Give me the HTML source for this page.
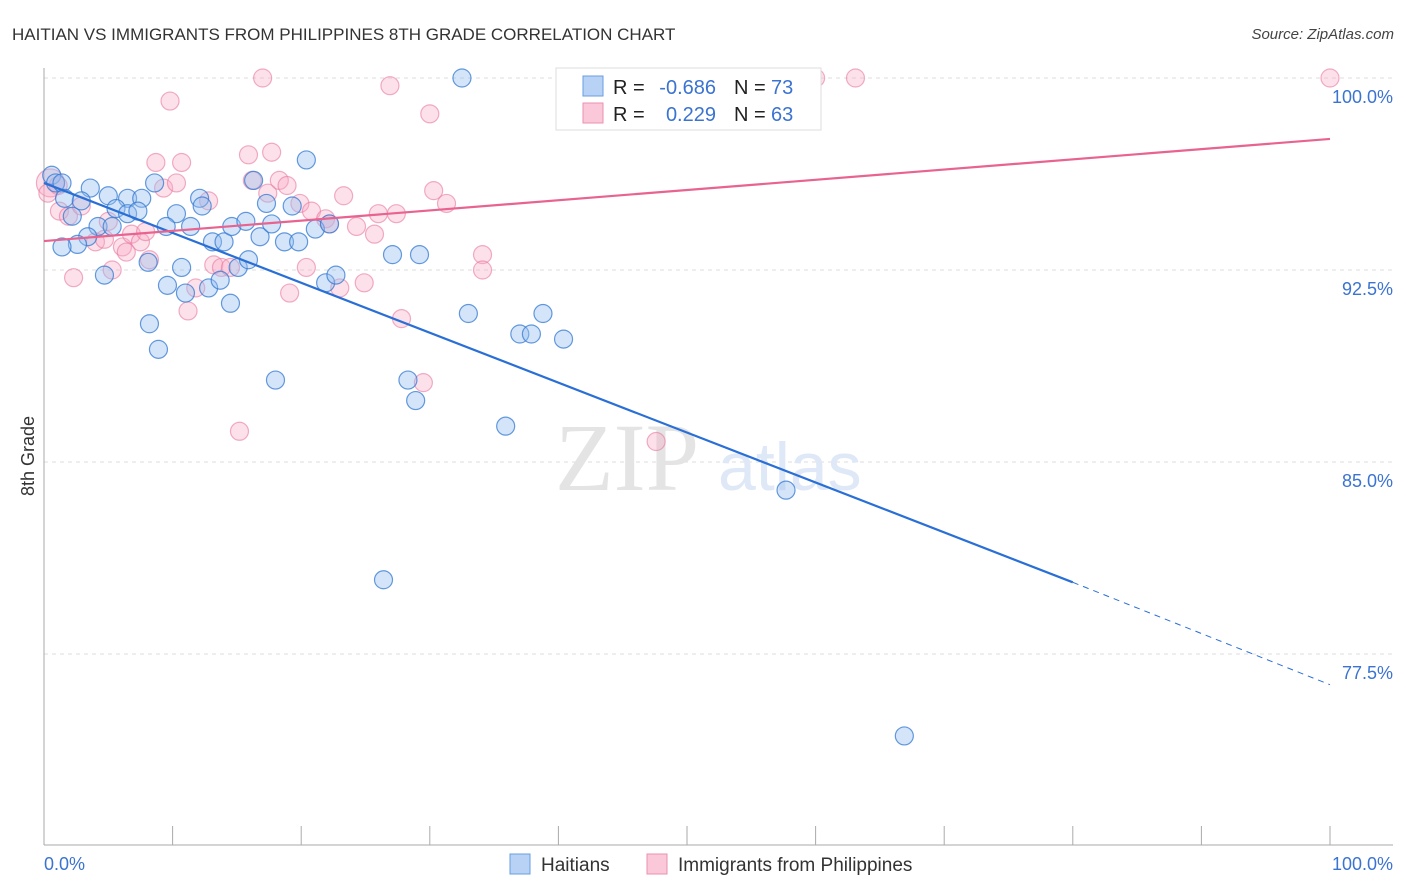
<!DOCTYPE html>
<html><head><meta charset="utf-8"><style>
body{margin:0;background:#fff;font-family:"Liberation Sans",sans-serif}
svg{display:block}
</style></head><body>
<svg id="c" width="1406" height="892"></svg>
<script>
const blueX=[0.6,0.9,1.4,3.6,1.6,2.9,5.0,6.5,7.6,2.2,5.6,6.5,7.3,8.6,10.3,12.1,12.3,9.5,11.4,4.2,5.3,3.4,2.6,1.4,4.7,8.1,10.7,9.6,11.0,12.8,13.7,15.1,15.9,13.1,14.0,14.6,15.7,16.8,17.7,16.3,17.3,18.7,19.8,19.3,20.4,21.1,22.2,21.9,22.7,14.5,8.2,8.9,18.0,27.1,29.2,32.5,33.0,37.0,37.9,38.8,40.4,28.3,28.9,35.9,57.7,26.4,66.9];
const blueY=[96.2,95.9,95.9,95.7,95.3,95.2,95.4,95.3,95.3,94.6,94.9,94.7,94.8,95.9,94.7,95.3,95.0,94.2,94.2,94.2,94.2,93.8,93.5,93.4,92.3,92.8,92.6,91.9,91.6,91.8,92.1,92.6,92.9,93.6,93.6,94.2,94.4,93.8,94.3,96.0,95.1,93.6,93.6,95.0,96.8,94.1,94.3,92.0,92.3,91.2,90.4,89.4,88.2,93.1,93.1,100.0,90.8,90.0,90.0,90.8,89.8,88.2,87.4,86.4,83.9,80.4,74.3];
const pinkX=[0.5,1.1,0.3,1.2,1.9,2.9,2.3,4.0,4.7,5.0,5.3,6.1,6.4,6.8,7.5,7.9,8.2,8.7,9.3,9.8,10.3,10.7,11.2,11.8,12.8,13.2,13.8,14.5,15.2,15.9,16.2,17.0,17.4,17.7,18.3,18.9,19.1,19.9,20.4,20.8,21.9,22.2,23.0,23.3,24.3,24.9,25.7,26.0,26.9,27.4,27.8,29.5,30.0,30.3,31.3,34.1,34.1,47.6,60.0,63.1,100];
const pinkY=[95.9,95.8,95.5,94.8,94.6,95.0,92.2,93.6,93.7,94.4,92.5,93.4,93.2,93.9,93.6,94.0,92.9,96.7,95.7,99.1,95.9,96.7,90.9,91.8,95.2,92.7,92.6,92.6,86.2,97.0,96.0,100.0,95.5,97.1,96.0,95.8,91.6,95.1,92.6,94.8,94.5,94.3,91.8,95.4,94.2,92.0,93.9,94.7,99.7,94.7,90.6,88.1,98.6,95.6,95.1,93.1,92.5,85.8,100.0,100.0,100];
const yTicks=[100,92.5,85,77.5];
const yTickLabels=["100.0%","92.5%","85.0%","77.5%"];
const blueLine=[[0,95.9],[80,80.3],[100,76.3]];
const pinkLine=[[0,93.63],[100,97.62]];
const X=v=>44+v*12.86, Y=v=>78+(100-v)*25.6;
const s=document.getElementById('c'),NS="http://www.w3.org/2000/svg";
function el(t,a,txt){const e=document.createElementNS(NS,t);for(const k in a)e.setAttribute(k,a[k]);if(txt!==undefined)e.textContent=txt;s.appendChild(e);return e;}
let e;
e=el('text',{x:12,y:40,'font-size':17,fill:'#333'},'HAITIAN VS IMMIGRANTS FROM PHILIPPINES 8TH GRADE CORRELATION CHART');

e=el('text',{x:1394,y:39,'font-size':15,fill:'#444','font-style':'italic','text-anchor':'end'},'Source: ZipAtlas.com');

yTicks.forEach((t,i)=>{
 e=el('line',{x1:44,x2:1393,y1:Y(t),y2:Y(t),stroke:'#ddd','stroke-dasharray':'4,4'});
 
 e=el('text',{x:1393,y:Y(t)+25,'font-size':18,fill:'#3b73d1','text-anchor':'end'},yTickLabels[i]);
 
});
e=el('line',{x1:44,x2:44,y1:68,y2:845,stroke:'#aaa'});
e=el('line',{x1:44,x2:1393,y1:845,y2:845,stroke:'#aaa'});
for(let i=0;i<=10;i++){e=el('line',{x1:X(i*10),x2:X(i*10),y1:826,y2:845,stroke:'#aaa'});}
e=el('text',{x:44,y:870,'font-size':18,fill:'#3b73d1'},'0.0%');
e=el('text',{x:1393,y:870,'font-size':18,fill:'#3b73d1','text-anchor':'end'},'100.0%');
e=el('text',{x:34,y:456,'font-size':18,fill:'#333','text-anchor':'middle',transform:'rotate(-90 34 456)'},'8th Grade');
e=el('text',{x:555,y:490,'font-size':96,fill:'#e4e4e4','font-family':'Liberation Serif,serif'},'ZIP');
e=el('text',{x:718,y:490,'font-size':68,fill:'#dfe8f7'},'atlas');
pinkX.forEach((v,i)=>{e=el('circle',{cx:X(v),cy:Y(pinkY[i]),r:i==0?14:9,fill:'rgba(248,170,195,0.35)',stroke:'rgba(232,120,160,0.6)','stroke-width':1.2});
 });
blueX.forEach((v,i)=>{e=el('circle',{cx:X(v),cy:Y(blueY[i]),r:9,fill:'rgba(150,190,240,0.4)',stroke:'rgba(50,120,210,0.75)','stroke-width':1.2});
 });
e=el('line',{x1:X(blueLine[0][0]),y1:Y(blueLine[0][1]),x2:X(blueLine[1][0]),y2:Y(blueLine[1][1]),stroke:'#2a6fd6','stroke-width':2.2});

e=el('line',{x1:X(blueLine[1][0]),y1:Y(blueLine[1][1]),x2:X(blueLine[2][0]),y2:Y(blueLine[2][1]),stroke:'#2a6fd6','stroke-width':1,'stroke-dasharray':'6,5'});

e=el('line',{x1:X(pinkLine[0][0]),y1:Y(pinkLine[0][1]),x2:X(pinkLine[1][0]),y2:Y(pinkLine[1][1]),stroke:'#e8638f','stroke-width':2.2});

// legend box
e=el('rect',{x:556,y:68,width:265,height:62,fill:'#fff',stroke:'#ddd'});
e=el('rect',{x:583,y:76,width:20,height:20,fill:'#b7d2f5',stroke:'#6a9de0'});
e=el('rect',{x:583,y:103,width:20,height:20,fill:'#fac8d8',stroke:'#eb90b0'});
[[94,'-0.686','73'],[121,'0.229','63']].forEach((r,i)=>{
 e=el('text',{x:613,y:r[0],'font-size':20,fill:'#222'},'R =');
 e=el('text',{x:716,y:r[0],'font-size':20,fill:'#3b73d1','text-anchor':'end'},r[1]);
 e=el('text',{x:734,y:r[0],'font-size':20,fill:'#222'},'N =');
 e=el('text',{x:771,y:r[0],'font-size':20,fill:'#3b73d1'},r[2]);
});
e=el('rect',{x:510,y:854,width:20,height:20,fill:'#b7d2f5',stroke:'#6a9de0'});
e=el('text',{x:541,y:871,'font-size':19,fill:'#333'},'Haitians');
e=el('rect',{x:647,y:854,width:20,height:20,fill:'#fac8d8',stroke:'#eb90b0'});
e=el('text',{x:678,y:871,'font-size':19,fill:'#333'},'Immigrants from Philippines');
</script>
</body></html>
